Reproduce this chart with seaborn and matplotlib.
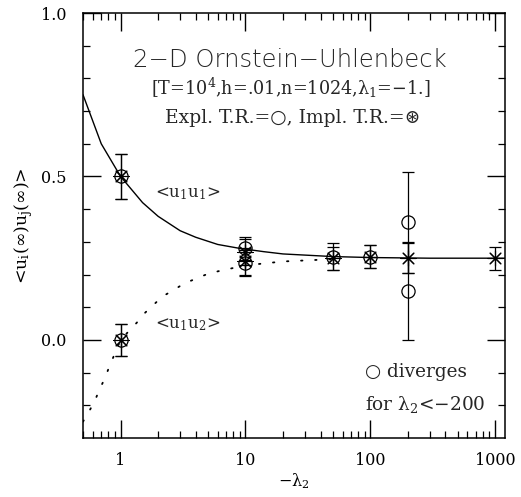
import numpy as np
import pandas as pd
import matplotlib
matplotlib.use("Agg")
import matplotlib.pyplot as plt
import seaborn as sns
from matplotlib.ticker import FixedLocator, NullFormatter, LogLocator

# analytic curves (x = -lambda_2)
u11_x = [0.5, 0.7, 1.0, 1.5, 2.0, 3.0, 4.0, 6.0, 9.0, 14.0, 20.0, 50.0, 100.0, 300.0, 1200.0]
u11_y = [0.75, 0.60, 0.50, 0.42, 0.378, 0.334, 0.314, 0.292, 0.280, 0.270, 0.263, 0.255, 0.252, 0.250, 0.250]
u12_x = [0.5, 0.55, 0.62, 0.68, 0.75, 0.81, 1.0, 1.35, 1.55, 1.83, 2.17, 2.64, 3.28, 4.07, 5.05, 6.37, 10.0,
         20.0, 50.0]
u12_y = [-0.25, -0.224, -0.187, -0.151, -0.116, -0.083, 0.0, 0.053, 0.081, 0.107, 0.133, 0.152, 0.174,
         0.188, 0.203, 0.212, 0.228, 0.240, 0.247]

# explicit time-reversal runs (circles)
expl_x = [1, 1, 10, 10, 50, 100, 200, 200]
expl_y = [0.50, 0.00, 0.28, 0.235, 0.255, 0.255, 0.36, 0.15]
expl_err = [0.07, 0.05, 0.035, 0.04, 0.04, 0.035, 0.155, 0.15]

# implicit time-reversal runs (asterisks)
impl_x = [1, 1, 10, 10, 50, 100, 200, 1000]
impl_y = [0.50, 0.00, 0.27, 0.24, 0.25, 0.255, 0.25, 0.25]
impl_err = [0.07, 0.05, 0.04, 0.04, 0.035, 0.035, 0.045, 0.035]

sns.set_theme(style="ticks")
plt.rcParams['font.family'] = ['DejaVu Serif', 'DejaVu Sans']
plt.rcParams['mathtext.fontset'] = 'dejavuserif'

fig = plt.figure(figsize=(5.21, 4.97), dpi=100)
ax = fig.add_axes([83 / 521, 1 - 438 / 497, 422 / 521, 425 / 497])

df11 = pd.DataFrame({'x': u11_x, 'y': u11_y})
df12 = pd.DataFrame({'x': u12_x, 'y': u12_y})
sns.lineplot(data=df11, x='x', y='y', ax=ax, color='black', lw=1.0, sort=False)
sns.lineplot(data=df12, x='x', y='y', ax=ax, color='black', lw=1.3, sort=False,
             linestyle=(0, (0.8, 7)), dash_capstyle='round')

ax.errorbar(expl_x, expl_y, yerr=expl_err, fmt='o', mfc='none', mec='black', ms=9.5,
            mew=0.9, ecolor='black', elinewidth=0.9, capsize=4, capthick=0.9)
ax.errorbar(impl_x, impl_y, yerr=impl_err, fmt='none', ecolor='black', elinewidth=0.9,
            capsize=4, capthick=0.9)
sns.scatterplot(x=impl_x, y=impl_y, ax=ax, marker=(8, 2, 0), s=120, color='black',
                linewidth=0.8, legend=False)

ax.set_xscale('log')
ax.set_xlim(0.5, 1200)
ax.set_ylim(-0.3, 1.0)

ax.xaxis.set_major_locator(FixedLocator([1, 10, 100, 1000]))
ax.set_xticklabels(['1', '10', '100', '1000'])
ax.xaxis.set_minor_locator(LogLocator(base=10, subs=np.arange(2, 10)))
ax.xaxis.set_minor_formatter(NullFormatter())
ax.yaxis.set_major_locator(FixedLocator([0.0, 0.5, 1.0]))
ax.set_yticklabels(['0.0', '0.5', '1.0'])
ax.yaxis.set_minor_locator(FixedLocator(np.arange(-0.2, 1.0, 0.1)))

ax.tick_params(which='major', direction='in', length=13, width=1.0, top=True, right=True,
               labelsize=11.5, pad=12, color='black', labelcolor='black')
ax.tick_params(axis='x', which='major', pad=10)
ax.tick_params(which='minor', direction='in', length=5, width=0.9, top=True, right=True,
               color='black')
for s in ax.spines.values():
    s.set_color('black')
    s.set_linewidth(1.1)

ax.set_xlabel('\u2212\u03bb$_2$', fontsize=11.5, color='black', labelpad=2)
ax.set_ylabel('<u$_\\mathrm{i}$(\u221e)u$_\\mathrm{j}$(\u221e)>', fontsize=12.5, color='black',
              labelpad=4)

ax.text(0.49, 0.89, '2\u2212D Ornstein\u2212Uhlenbeck', transform=ax.transAxes, ha='center',
        va='center', fontsize=17.5, family='DejaVu Sans', fontweight='light')
ax.text(0.493, 0.824, '[T=10$^4$,h=.01,n=1024,\u03bb$_1$=\u22121.]',
        transform=ax.transAxes, ha='center', va='center', fontsize=12.7)
ax.text(0.496, 0.753, 'Expl. T.R.=\u25cb, Impl. T.R.=\u229b', transform=ax.transAxes,
        ha='center', va='center', fontsize=13.5, family=['DejaVu Serif', 'DejaVu Sans'])
ax.text(0.171, 0.576, '<u$_1$u$_1$>', transform=ax.transAxes, ha='left', va='center',
        fontsize=12)
ax.text(0.171, 0.266, '<u$_1$u$_2$>', transform=ax.transAxes, ha='left', va='center',
        fontsize=12)
ax.text(0.668, 0.155, '\u25cb diverges', transform=ax.transAxes, ha='left', va='center',
        fontsize=13.3)
ax.text(0.668, 0.078, 'for \u03bb$_2$<\u2212200', transform=ax.transAxes, ha='left', va='center',
        fontsize=13.3)

fig.savefig('out.png', dpi=100)
